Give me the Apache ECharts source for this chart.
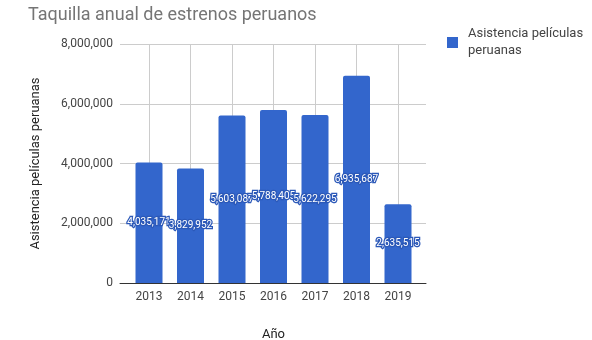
<!DOCTYPE html>
<html>
<head>
<meta charset="utf-8">
<script src="https://cdn.jsdelivr.net/npm/echarts@6/dist/echarts.min.js"></script>
<style>html,body{margin:0;padding:0;background:#fff}#c{width:592px;height:340px}</style>
</head>
<body>
<div id="c"></div>
<script>
const years = ['2013','2014','2015','2016','2017','2018','2019'];
const attendance = [4035171, 3829952, 5603087, 5788405, 5622295, 6935687, 2635515];
const yTicks = [0, 2000000, 4000000, 6000000, 8000000];
const seriesName = 'Asistencia películas peruanas';

const fmt = v => Number(v).toLocaleString('en-US');
const chart = echarts.init(document.getElementById('c'));
chart.setOption({
  animation: false,
  textStyle: { fontFamily: 'Roboto' },
  title: {
    text: 'Taquilla anual de estrenos peruanos',
    left: 23, top: 1,
    textStyle: { fontFamily: 'Roboto', fontSize: 18, fontWeight: 'normal', color: '#757575' }
  },
  legend: {
    left: 442, top: 12,
    itemWidth: 11, itemHeight: 11,
    icon: 'rect',
    formatter: () => 'Asistencia películas\nperuanas',
    textStyle: { fontFamily: 'Roboto', fontSize: 13, color: '#444', lineHeight: 17, padding: [17, 0, 0, 5] },
    data: [seriesName]
  },
  grid: [
    { left: 120, right: 166, top: 44, bottom: 57, outerBoundsMode: 'none', containLabel: false },
    { left: 128.25, right: 173.25, top: 44, bottom: 57, outerBoundsMode: 'none', containLabel: false }
  ],
  xAxis: [
    { gridIndex: 0, type: 'value', min: 0, max: 1,
      axisLine: { show: true, lineStyle: { color: '#333', width: 1 } },
      axisTick: { show: false }, axisLabel: { show: false }, splitLine: { show: false } },
    { gridIndex: 1, type: 'category', data: years,
      name: 'Año', nameLocation: 'middle', nameGap: 45,
      nameTextStyle: { fontFamily: 'Roboto', fontSize: 13, color: '#222' },
      axisLine: { show: false }, axisTick: { show: false },
      axisLabel: { color: '#444', fontSize: 12, margin: 8 },
      splitLine: { show: true, alignWithLabel: true, lineStyle: { color: '#ccc' } } }
  ],
  yAxis: [
    { gridIndex: 0, type: 'value', min: yTicks[0], max: yTicks[yTicks.length - 1], interval: 2000000,
      name: seriesName, nameLocation: 'middle', nameGap: 78,
      nameTextStyle: { fontFamily: 'Roboto', fontSize: 13, color: '#222' },
      axisLine: { show: false }, axisTick: { show: false },
      axisLabel: { color: '#444', fontSize: 12, margin: 7, formatter: fmt },
      splitLine: { show: true, lineStyle: { color: '#ccc' } } },
    { gridIndex: 1, type: 'value', min: yTicks[0], max: yTicks[yTicks.length - 1], show: false }
  ],
  series: [{
    name: seriesName,
    type: 'bar',
    xAxisIndex: 1, yAxisIndex: 1,
    data: attendance,
    barWidth: 27,
    itemStyle: { color: '#3366cc', borderRadius: [2, 2, 0, 0] },
    label: {
      show: true, position: 'inside',
      formatter: p => fmt(p.value),
      fontFamily: 'Roboto', fontSize: 10, color: '#fff',
      textBorderColor: '#2b58b8', textBorderWidth: 2.5
    }
  }]
});
</script>
</body>
</html>
